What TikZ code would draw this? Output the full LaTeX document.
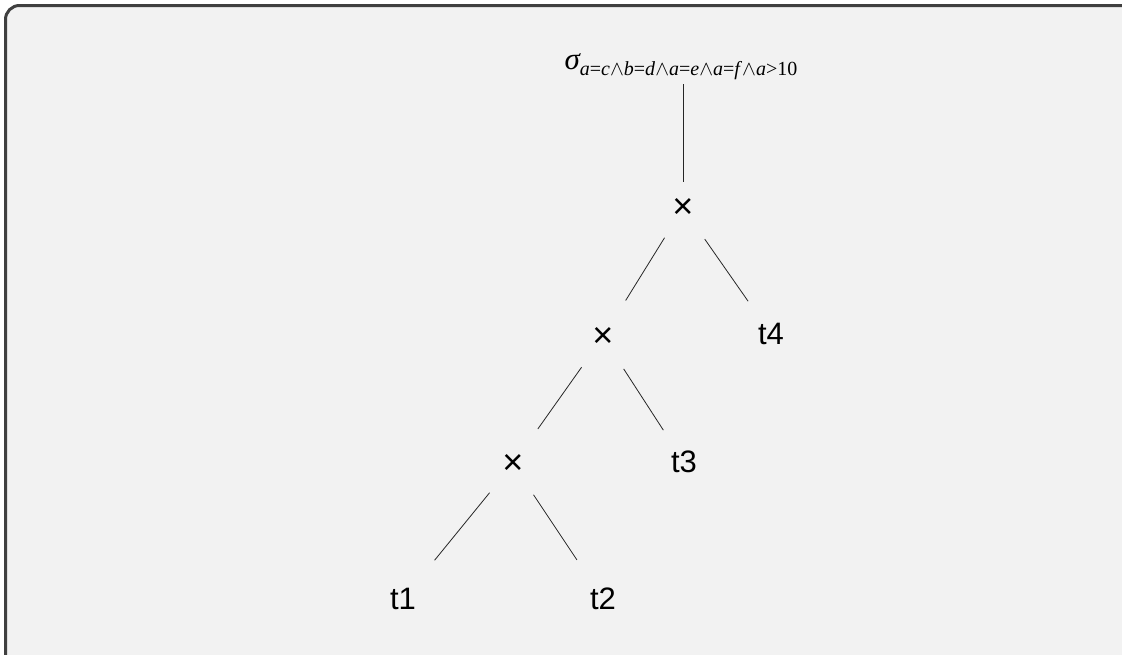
\documentclass[tikz,border=0pt]{standalone}
\usepackage{fontspec}
\setmainfont{Liberation Sans}
\newfontfamily\tms{Liberation Serif}
\begin{document}
\begin{tikzpicture}[x=1pt,y=-1pt,
  lbl/.style={inner sep=0pt,font=\fontsize{31}{34}\selectfont},
  op/.style={inner sep=0pt,font=\fontsize{36}{40}\selectfont},
  link/.style={draw=black!85,line width=0.8pt}]
\useasboundingbox (0,0) rectangle (1122,654);
\draw[fill=black!5,draw=black!75,line width=3pt,rounded corners=14pt] (5.5,5.5) rectangle (1140,680);
\node[inner sep=0pt] (sig) at (681,67) {{\tms\itshape\fontsize{31}{34}\selectfont σ}\raisebox{-6pt}{\tms\fontsize{20}{24}\selectfont\textit{a}=\textit{c}$\wedge$\textit{b}=\textit{d}$\wedge$\textit{a}=\textit{e}$\wedge$\textit{a}=\textit{f}$\wedge$\textit{a}>10}};
\node[op] (x1) at (683,208) {×};
\node[op] (x2) at (603,337) {×};
\node[op] (x3) at (513,464) {×};
\node[lbl] (t4) at (771,334) {t4};
\node[lbl] (t3) at (684,462) {t3};
\node[lbl] (t1) at (403,599) {t1};
\node[lbl] (t2) at (603,599) {t2};
\draw[link,shorten <=4pt,shorten >=26pt] (x1 |- sig.south) -- (x1.center);
\draw[link,shorten <=35pt,shorten >=43pt] (x1.center) -- (x2.center);
\draw[link,shorten <=38pt,shorten >=40pt] (x1.center) -- (t4.center);
\draw[link,shorten <=37pt,shorten >=43pt] (x2.center) -- (x3.center);
\draw[link,shorten <=38pt,shorten >=38pt] (x2.center) -- (t3.center);
\draw[link,shorten <=37pt,shorten >=50pt] (x3.center) -- (t1.center);
\draw[link,shorten <=37pt,shorten >=47pt] (x3.center) -- (t2.center);
\end{tikzpicture}
\end{document}
